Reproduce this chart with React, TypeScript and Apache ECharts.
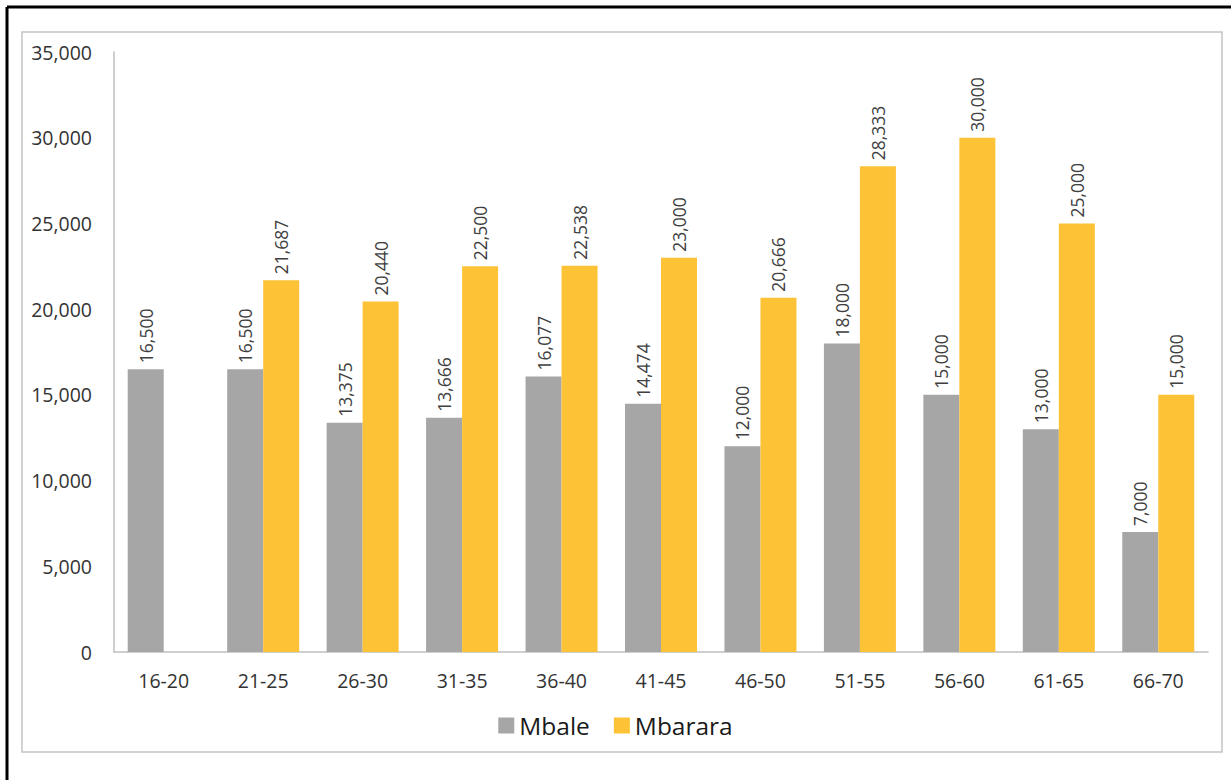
import React, { useEffect, useRef } from "react";
import * as echarts from "echarts";

const categories = ["16-20", "21-25", "26-30", "31-35", "36-40", "41-45", "46-50", "51-55", "56-60", "61-65", "66-70"];
const mbale = [16500, 16500, 13375, 13666, 16077, 14474, 12000, 18000, 15000, 13000, 7000];
const mbarara: (number | null)[] = [null, 21687, 20440, 22500, 22538, 23000, 20666, 28333, 30000, 25000, 15000];
const yTicks = { min: 0, max: 35000, interval: 5000 };

const FONT = "'Open Sans', 'Noto Sans', sans-serif";
const fmt = (v: number) => v.toLocaleString("en-US");

export default function App() {
  const ref = useRef<HTMLDivElement>(null);
  useEffect(() => {
    if (!ref.current) return;
    const chart = echarts.init(ref.current, null, { renderer: "svg" });
    const label = {
      show: true,
      position: "top" as const,
      rotate: 90,
      align: "left" as const,
      verticalAlign: "middle" as const,
      distance: 6,
      fontSize: 17.5,
      fontFamily: FONT,
      color: "#404040",
      formatter: (p: any) => fmt(p.value),
    };
    chart.setOption({
      animation: false,
      backgroundColor: "#ffffff",
      textStyle: { fontFamily: FONT },
      graphic: [
        { type: "line", shape: { x1: 7, y1: 7, x2: 1231, y2: 7 }, style: { stroke: "#000", lineWidth: 3 } },
        { type: "line", shape: { x1: 7, y1: 7, x2: 7, y2: 780 }, style: { stroke: "#000", lineWidth: 3 } },
        { type: "rect", shape: { x: 22, y: 32, width: 1200, height: 720 }, style: { fill: "none", stroke: "#c4c4c4", lineWidth: 1.5 } },
      ],
      grid: { left: 114, right: 23, top: 52, bottom: 128, containLabel: false },
      legend: {
        bottom: 37,
        left: "center",
        itemWidth: 16,
        itemHeight: 16,
        itemGap: 24,
        icon: "rect",
        textStyle: { fontSize: 24.5, fontFamily: FONT, color: "#1a1a1a" },
        data: ["Mbale", "Mbarara"],
      },
      xAxis: {
        type: "category",
        data: categories,
        axisLine: { lineStyle: { color: "#bfbfbf", width: 1.5 } },
        axisTick: { show: false },
        axisLabel: { fontSize: 19.5, fontFamily: FONT, color: "#333", margin: 18 },
      },
      yAxis: {
        type: "value",
        min: yTicks.min,
        max: yTicks.max,
        interval: yTicks.interval,
        splitLine: { show: false },
        axisLine: { show: true, lineStyle: { color: "#bfbfbf", width: 1.5 } },
        axisTick: { show: false },
        axisLabel: { fontSize: 19.5, fontFamily: FONT, color: "#333", margin: 22, formatter: (v: number) => fmt(v) },
      },
      series: [
        {
          name: "Mbale",
          type: "bar",
          data: mbale,
          itemStyle: { color: "#a6a6a6" },
          barGap: "0%",
          barCategoryGap: "27.6%",
          label,
        },
        {
          name: "Mbarara",
          type: "bar",
          data: mbarara,
          itemStyle: { color: "#fec236" },
          barGap: "0%",
          barCategoryGap: "27.6%",
          label,
        },
      ],
    });
    return () => chart.dispose();
  }, []);
  return <div ref={ref} style={{ position: "fixed", left: 0, top: 0, width: 1231, height: 780 }} />;
}
